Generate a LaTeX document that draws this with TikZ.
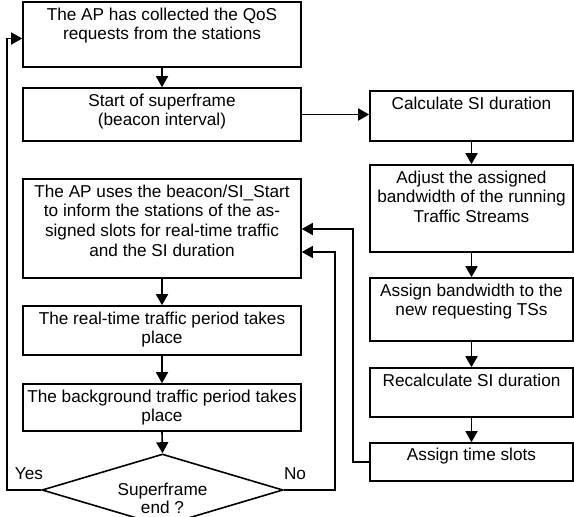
\documentclass[tikz,border=0pt]{standalone}
\usepackage{fontspec}
\setmainfont{Liberation Sans}
\usetikzlibrary{arrows.meta,shapes.geometric,calc}
\begin{document}
\begin{tikzpicture}[x=1pt,y=-1pt,
  box/.style={draw,line width=1.6pt,rectangle,inner sep=0pt},
  txt/.style={anchor=north,align=center,inner sep=0pt,font=\fontsize{17.2}{19.6}\selectfont},
  lbl/.style={inner sep=0pt,font=\fontsize{17.2}{19.6}\selectfont},
  arr/.style={line width=1.6pt,-{Triangle[length=11pt,width=12pt]}},
  ln/.style={line width=1.6pt}]
\useasboundingbox (0,0) rectangle (574,517);
% left column
\node[box,minimum width=278pt,minimum height=65pt] (b1) at (162,34.5) {};
\node[txt] (t1) at ($(b1.north)+(0,6.5)$) {The AP has collected the QoS\\requests from the stations};
\node[box,minimum width=278pt,minimum height=53pt] (b2) at (162,114.5) {};
\node[txt] (t2) at ($(b2.north)+(0,6.5)$) {Start of superframe\\(beacon interval)};
\node[box,minimum width=278pt,minimum height=99pt] (ap) at (162,228.5) {};
\node[txt] (tap) at ($(ap.north)+(0,6.5)$) {The AP uses the beacon/SI\_Start\\to inform the stations of the as-\\signed slots for real-time traffic\\and the SI duration};
\node[box,minimum width=278pt,minimum height=49pt] (rt) at (162,330.5) {};
\node[txt] (trt) at ($(rt.north)+(0,6.5)$) {The real-time traffic period takes\\place};
\node[box,minimum width=278pt,minimum height=47pt] (bg) at (162,407.5) {};
\node[txt] (tbg) at ($(bg.north)+(0,6.5)$) {The background traffic period takes\\place};
\node[draw,line width=1.6pt,diamond,inner sep=0pt,minimum width=241pt,minimum height=72pt] (dia) at (162.5,490) {};
\node[txt,font=\fontsize{17.2}{18}\selectfont] (tdia) at (162.5,483) {Superframe\\end ?};
% right column
\node[box,minimum width=203pt,minimum height=50pt] (calc) at (471.5,116) {};
\node[txt] (tcalc) at ($(calc.north)+(0,6.5)$) {Calculate SI duration};
\node[box,minimum width=203pt,minimum height=87pt] (adj) at (471.5,208.5) {};
\node[txt] (tadj) at ($(adj.north)+(0,6.5)$) {Adjust the assigned\\bandwidth of the running\\Traffic Streams};
\node[box,minimum width=203pt,minimum height=63pt] (abw) at (471.5,309.5) {};
\node[txt] (tabw) at ($(abw.north)+(0,6.5)$) {Assign bandwidth to the\\new requesting TSs};
\node[box,minimum width=203pt,minimum height=49pt] (rc) at (471.5,392.5) {};
\node[txt] (trc) at ($(rc.north)+(0,6.5)$) {Recalculate SI duration};
\node[box,minimum width=203pt,minimum height=38pt] (ts) at (471.5,462) {};
\node[txt] (tts) at ($(ts.north)+(0,6)$) {Assign time slots};
% labels
\node[lbl] (yes) at (29,474) {Yes};
\node[lbl] (no) at (295,474) {No};
% connectors
\draw[arr] (b1.south) -- (b2.north);
\draw[arr] (b2.east) -- (b2.east -| calc.west);
\draw[arr] (calc.south) -- (adj.north);
\draw[arr] (adj.south) -- (abw.north);
\draw[arr] (abw.south) -- (rc.north);
\draw[arr] (rc.south) -- (ts.north);
\draw[arr] (ap.south) -- (rt.north);
\draw[arr] (rt.south) -- (bg.north);
\draw[arr] (bg.south) -- (dia.north);
\coordinate (yesc) at (7,490);
\draw[arr] (dia.west) -- (yesc) |- ([yshift=-4pt]b1.west);
\coordinate (noc) at (335,252);
\draw[arr] (dia.east) -| (noc) -- (noc -| ap.east);
\coordinate (tsc) at (353,229);
\draw[arr] (ts.west) -| (tsc) -- (tsc -| ap.east);
\end{tikzpicture}
\end{document}
